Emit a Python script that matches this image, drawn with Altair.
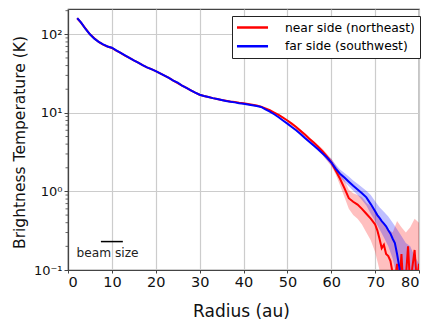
import altair as alt
import pandas as pd

# ---------------- data ----------------
series_names = ["near side (northeast)", "far side (southwest)"]
series_colors = ["#ff0000", "#0000ff"]

radius = [2.1, 3, 4, 5, 6, 7, 8, 9, 10, 11, 12, 13, 14, 15, 16, 17, 18, 19, 20,
          21, 22, 23, 24, 25, 26, 27, 28, 29, 30, 31, 32, 33, 34, 35, 36, 37, 38,
          39, 40, 41, 42, 43, 44, 45, 46, 47, 48, 49, 50, 51, 52, 53, 54, 55, 56,
          57, 58, 59, 60, 61, 62, 63, 64, 65, 66, 67, 68, 69, 70,
          70.5, 71, 71.5, 72, 72.5, 73, 73.5, 74, 74.5, 75, 75.5, 76, 76.5, 77,
          77.5, 78, 78.5, 79, 79.5, 80]

near_T = [160, 140, 118, 100, 89, 80, 74, 70, 67, 62, 58, 53.5, 50, 46.5, 43.5,
          40.5, 38, 36, 34, 31.8, 29.8, 27.8, 25.8, 24, 22.3, 20.8, 19.4, 18.1, 17,
          16.4, 15.9, 15.4, 15, 14.6, 14.3, 14, 13.8, 13.5, 13.3, 13, 12.7, 12.4,
          12, 11.4, 10.8, 10.1, 9.4, 8.7, 8.0, 7.3, 6.6, 5.9, 5.3, 4.7, 4.2, 3.7,
          3.25, 2.8, 2.35, 1.85, 1.45, 1.1, 0.82, 0.74, 0.68, 0.6, 0.52, 0.45, 0.38,
          0.32, 0.25, 0.19, 0.21, 0.16, 0.15, 0.13, 0.09, 0.07, 0.12, 0.06, 0.16,
          0.05, 0.08, 0.2, 0.06, 0.11, 0.18, 0.07, 0.12]

far_T = [161, 141, 117, 100, 88, 80, 74.5, 70, 67.5, 62.5, 58, 54, 50, 46.5, 43.5,
         40.5, 38, 36, 34, 31.8, 29.8, 27.8, 25.8, 24.2, 22.3, 20.8, 19.4, 18.1,
         17, 16.4, 15.9, 15.4, 15, 14.6, 14.2, 13.9, 13.6, 13.3, 13.1, 12.8, 12.5,
         12.2, 11.9, 11.1, 10.4, 9.6, 8.8, 8.0, 7.3, 6.6, 6.0, 5.4, 4.8, 4.3, 3.85,
         3.45, 3.05, 2.7, 2.35, 1.95, 1.68, 1.5, 1.33, 1.18, 1.06, 0.95, 0.84, 0.69,
         0.56, 0.5, 0.46, 0.42, 0.39, 0.36, 0.32, 0.29, 0.25, 0.22, 0.16, 0.11,
         0.07, 0.05, 0.04, 0.04, 0.04, 0.04, 0.04, 0.04, 0.04]

band_r = [50, 52, 54, 56, 58, 60, 61, 62, 63, 64, 65, 66, 67, 68, 69, 70, 71, 72,
          73, 74, 75, 76, 77, 78, 79, 80]
near_lo = [7.7, 6.2, 4.9, 3.8, 2.9, 2.1, 1.65, 1.2, 0.85, 0.6, 0.5, 0.45, 0.38,
           0.3, 0.24, 0.17, 0.1, 0.07, 0.05, 0.04, 0.04, 0.04, 0.04, 0.04, 0.04, 0.04]
near_hi = [8.3, 6.8, 5.5, 4.4, 3.5, 2.6, 2.15, 1.75, 1.4, 1.05, 0.95, 0.9, 0.85,
           0.72, 0.65, 0.56, 0.45, 0.4, 0.33, 0.3, 0.42, 0.35, 0.3, 0.35, 0.45, 0.4]
far_lo = [7.1, 5.8, 4.6, 3.7, 2.9, 2.15, 1.8, 1.5, 1.33, 1.16, 1.02, 0.9, 0.78,
          0.66, 0.52, 0.42, 0.33, 0.26, 0.2, 0.14, 0.08, 0.05, 0.04, 0.04, 0.04, 0.04]
far_hi = [7.6, 6.2, 5.0, 4.0, 3.2, 2.6, 2.2, 1.9, 1.72, 1.55, 1.38, 1.25, 1.13,
          1.02, 0.9, 0.75, 0.63, 0.55, 0.48, 0.4, 0.33, 0.27, 0.22, 0.2, 0.15, 0.12]

beam_r = [7.5, 12.5]
beam_T = [0.23, 0.23]
beam_text = "beam size"
beam_text_r = [9.0]
beam_text_T = [0.165]

x_ticks = [0, 10, 20, 30, 40, 50, 60, 70, 80]
y_ticks = [0.1, 1, 10, 100]
y_tick_labels = ["10⁻¹", "10⁰", "10¹", "10²"]
y_minor = [0.2, 0.3, 0.4, 0.5, 0.6, 0.7, 0.8, 0.9, 2, 3, 4, 5, 6, 7, 8, 9,
           20, 30, 40, 50, 60, 70, 80, 90, 200]

FONT = "DejaVu Sans"

# ---------------- tables ----------------
lines_df = pd.concat([
    pd.DataFrame({"r": radius, "T": near_T, "series": series_names[0]}),
    pd.DataFrame({"r": radius, "T": far_T, "series": series_names[1]}),
])
near_band = pd.DataFrame({"r": band_r, "T": near_lo, "T2": near_hi})
far_band = pd.DataFrame({"r": band_r, "T": far_lo, "T2": far_hi})
beam_df = pd.DataFrame({"r": beam_r, "T": beam_T})
beam_txt_df = pd.DataFrame({"r": beam_text_r, "T": beam_text_T, "label": [beam_text]})
minor_df = pd.DataFrame({"T": y_minor})

label_expr = " : ".join(
    f"abs(log(datum.value)/log(10) - ({i - 1})) < 0.01 ? '{lab}'"
    for i, lab in enumerate(y_tick_labels)
) + " : ''"

xenc = alt.X("r:Q",
             scale=alt.Scale(domain=[0, 80], nice=False, zero=False),
             axis=alt.Axis(values=x_ticks, format="d", title="Radius (au)",
                           tickSize=3, labelPadding=2, labelFontSize=14.5,
                           titleFontSize=17, titleX=173, titleY=46,
                           titleAlign="center", titleBaseline="alphabetic"))
yenc = alt.Y("T:Q",
             scale=alt.Scale(type="log", domain=[0.1, 210], nice=False),
             axis=alt.Axis(values=y_ticks, labelExpr=label_expr,
                           title="Brightness Temperature (K)",
                           tickSize=4, labelPadding=2, labelFontSize=13,
                           titleFontSize=15.5,
                           titleX=-49, titleY=133, titleAngle=-90,
                           titleAlign="center", titleBaseline="middle"))

near_area = alt.Chart(near_band).mark_area(
    color=series_colors[0], opacity=0.25, clip=True
).encode(x=xenc, y=yenc, y2="T2:Q")
far_area = alt.Chart(far_band).mark_area(
    color=series_colors[1], opacity=0.25, clip=True
).encode(x=xenc, y=yenc, y2="T2:Q")

lines = alt.Chart(lines_df).mark_line(strokeWidth=2, clip=True).encode(
    x=xenc, y=yenc,
    color=alt.Color("series:N",
                    scale=alt.Scale(domain=series_names, range=series_colors),
                    sort=series_names,
                    legend=alt.Legend(
                        title=None, orient="none", legendX=164, legendY=7,
                        strokeColor="#222", fillColor="white", padding=5,
                        cornerRadius=0, symbolType="M-3,0H3", symbolSize=107,
                        symbolStrokeWidth=2.5, symbolOffset=9,
                        labelOffset=26, labelFontSize=12.3, labelFont=FONT,
                        labelColor="black", rowPadding=5.7, labelLimit=400)),
    detail="series:N",
)

beam = alt.Chart(beam_df).mark_line(color="black", strokeWidth=1.5).encode(x=xenc, y=yenc)
beam_txt = alt.Chart(beam_txt_df).mark_text(
    font=FONT, fontSize=12.2, color="#222", align="center", baseline="middle"
).encode(x=xenc, y=yenc, text="label:N")

minor = alt.Chart(minor_df).mark_rule(color="#444", strokeWidth=0.8).encode(
    x=alt.value(-2.5), x2=alt.value(0), y=yenc)

chart = alt.layer(near_area, far_area, lines, beam, beam_txt, minor).properties(
    width=351, height=261,
    autosize=alt.AutoSizeParams(type="none"),
    padding={"left": 60, "top": 1, "right": 9, "bottom": 51},
).configure_axis(
    labelFont=FONT, labelColor="#111",
    titleFont=FONT, titleFontWeight="normal", titleColor="#111",
    gridColor="#cccccc", gridWidth=1.2, domainColor="#444", tickColor="#444",
    domainWidth=1.2,
).configure_view(stroke="#444", strokeWidth=1.2)

chart.save("out.html", embed_options={"renderer": "svg", "actions": False})
